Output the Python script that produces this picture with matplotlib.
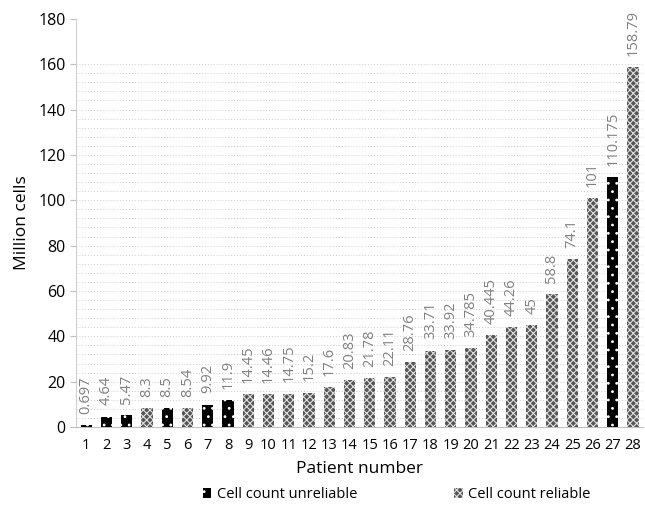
import numpy as np
import matplotlib.pyplot as plt
from matplotlib.patches import Patch

plt.rcParams['font.family'] = ['Open Sans', 'DejaVu Sans']
plt.rcParams['hatch.linewidth'] = 0.8

patients = list(range(1, 29))
cells = [0.697, 4.64, 5.47, 8.3, 8.5, 8.54, 9.92, 11.9, 14.45, 14.46,
         14.75, 15.2, 17.6, 20.83, 21.78, 22.11, 28.76, 33.71, 33.92, 34.785,
         40.445, 44.26, 45, 58.8, 74.1, 101, 110.175, 158.79]
labels = ['0.697', '4.64', '5.47', '8.3', '8.5', '8.54', '9.92', '11.9', '14.45', '14.46',
          '14.75', '15.2', '17.6', '20.83', '21.78', '22.11', '28.76', '33.71', '33.92', '34.785',
          '40.445', '44.26', '45', '58.8', '74.1', '101', '110.175', '158.79']
unreliable = [1, 2, 3, 5, 7, 8, 27]

fig = plt.figure(figsize=(6.45, 5.09), dpi=100)
ax = fig.add_axes([0.118, 0.161, 0.879, 0.802])

x = np.arange(len(patients))
for i, p in enumerate(patients):
    if p in unreliable:
        ax.bar(x[i], cells[i], width=0.55, color='black', edgecolor='white',
               hatch='..', linewidth=0, zorder=3)
    else:
        ax.bar(x[i], cells[i], width=0.55, color='#555555', edgecolor='#e0e0e0',
               hatch='xxxxx', linewidth=0, zorder=3)
    ax.annotate(labels[i], (x[i], cells[i]), xytext=(0, 8), textcoords='offset points',
                rotation=90, ha='center', va='bottom', fontsize=10.5, color='#808080')

# dotted grid lines every 4 units
for g in range(4, 161, 4):
    ax.axhline(g, color='#cccccc', linestyle=(0, (1, 2)), linewidth=0.7, zorder=0)

ax.set_xlim(-0.5, len(patients) - 0.5)
ax.set_ylim(0, 180)
ax.set_yticks(range(0, 181, 20))
ax.set_xticks(x)
ax.set_xticklabels([str(p) for p in patients], fontsize=10.5)
ax.tick_params(axis='y', labelsize=11.5, length=4, color='#bfbfbf')
ax.tick_params(axis='x', length=0, pad=8)
for s in ['top', 'right']:
    ax.spines[s].set_visible(False)
ax.spines['left'].set_color('#d0d0d0')
ax.spines['bottom'].set_color('#bfbfbf')

ax.set_xlabel('Patient number', fontsize=12.5, labelpad=6)
ax.set_ylabel('Million cells', fontsize=12.5, labelpad=6)

handles = [Patch(facecolor='black', edgecolor='white', hatch='..', linewidth=0,
                 label='Cell count unreliable'),
           Patch(facecolor='#555555', edgecolor='#e0e0e0', hatch='xxxxx', linewidth=0,
                 label='Cell count reliable')]
fig.legend(handles=handles, loc='lower center', ncol=2, frameon=False, fontsize=10.5,
           bbox_to_anchor=(0.615, -0.012), handlelength=0.6, handleheight=0.7,
           columnspacing=6.6, handletextpad=0.4)

plt.savefig('out.png', dpi=100)
